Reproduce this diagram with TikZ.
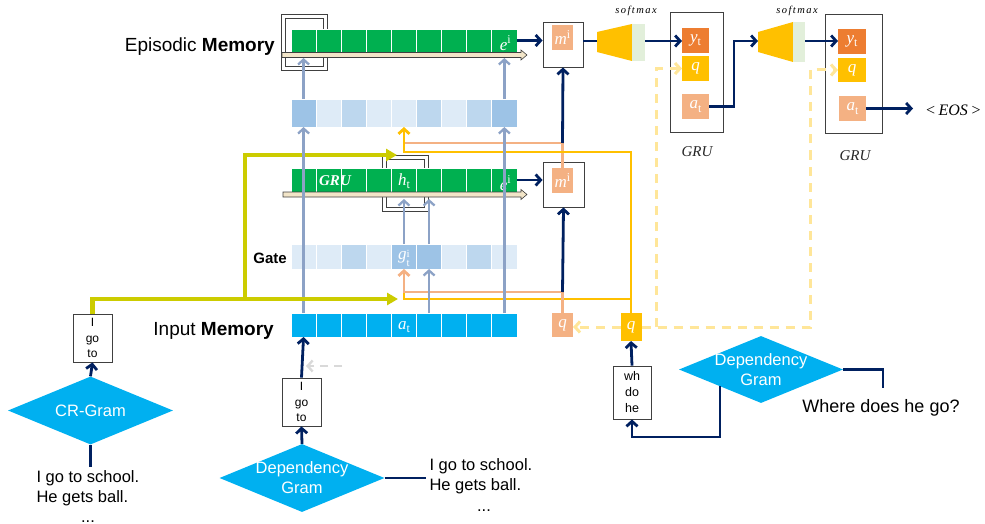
\documentclass[tikz,border=0pt]{standalone}
\usepackage{fontspec}
\setmainfont{Liberation Sans}
\newfontfamily\serifc{Liberation Serif}
\newfontfamily\serifsp[LetterSpace=14]{Liberation Serif}
\usetikzlibrary{arrows.meta,shapes.geometric,calc}
\newcommand\supl[2]{{\serifc\itshape #1}\raisebox{0.40em}{\serifc\fontsize{12}{12}\selectfont #2}}
\newcommand\subl[2]{{\serifc\itshape #1}\raisebox{-0.20em}{\serifc\fontsize{12}{12}\selectfont #2}}
\newcommand\bothl[3]{{\serifc\itshape #1}\raisebox{-0.42em}{\serifc\fontsize{11}{9.5}\selectfont\shortstack[l]{#2\\#3}}}
\definecolor{navyc}{RGB}{0,32,96}
\definecolor{grayb}{RGB}{140,162,198}
\definecolor{ygc}{RGB}{204,204,0}
\definecolor{orangec}{RGB}{255,192,0}
\definecolor{salc}{RGB}{244,177,131}
\definecolor{dorc}{RGB}{237,125,49}
\definecolor{lyel}{RGB}{255,230,153}
\definecolor{cyanc}{RGB}{0,176,240}
\definecolor{greenc}{RGB}{0,176,80}
\definecolor{bA}{RGB}{157,195,230}
\definecolor{bB}{RGB}{189,215,238}
\definecolor{bC}{RGB}{222,235,247}
\definecolor{tanc}{RGB}{242,229,200}
\definecolor{lgreen}{RGB}{226,239,218}
\definecolor{lgray}{RGB}{217,217,217}
\definecolor{boxc}{RGB}{64,64,64}
\begin{document}
\begin{tikzpicture}[x=1pt,y=-1pt,
  cell/.style={draw=white, line width=0.7pt, minimum width=25.1pt, inner sep=0pt, outer sep=0pt},
  nav/.style={draw=navyc, line width=2.8pt},
  navar/.style={nav, -{Straight Barb[length=5pt,width=11pt]}},
  gbar/.style={draw=grayb, line width=2.3pt, -{Straight Barb[length=5pt,width=11pt]}},
  ygl/.style={draw=ygc, line width=4.2pt},
  ygar/.style={ygl, -{Triangle[length=11pt,width=12pt]}},
  orl/.style={draw=orangec, line width=2.8pt},
  sall/.style={draw=salc, line width=2.8pt},
  dyel/.style={draw=lyel, line width=3pt, dash pattern=on 9pt off 7pt},
  lgd/.style={draw=lgray, line width=2.4pt, dash pattern=on 8pt off 6pt, -{Straight Barb[length=5pt,width=11pt]}},
  wlab/.style={text=white, font=\fontsize{17}{19}\selectfont, inner sep=0pt},
  sq/.style={minimum width=21pt, inner sep=0pt, outer sep=0pt, text=white, font=\fontsize{17}{19}\selectfont},
  wbox/.style={draw=boxc, line width=0.9pt, fill=white, align=center, inner sep=0pt, font=\fontsize{12}{15.5}\selectfont},
  diam/.style={diamond, fill=cyanc, inner sep=0pt, minimum width=165pt, minimum height=68pt},
  dtext/.style={text=white, align=center, font=\fontsize{16.5}{20}\selectfont},
  btext/.style={font=\fontsize{16.5}{20}\selectfont, align=left},
  glab/.style={font=\serifc\itshape\fontsize{15}{17}\selectfont, text=black!85},
  smlab/.style={font=\serifsp\itshape\fontsize{10.5}{12}\selectfont}
]
\useasboundingbox (0,0) rectangle (985,524);

% double boxes (behind cells)
\draw[boxc, line width=0.9pt] (281,14) rectangle (327,70);
\draw[boxc, line width=0.9pt] (285,18) rectangle (323,66);
\draw[boxc, line width=0.9pt] (382,155) rectangle (428,211);
\draw[boxc, line width=0.9pt] (386,159) rectangle (424,207);

% rows of cells
\foreach \i in {1,...,9} {
  \node[cell, fill=greenc, minimum height=23pt] (em\i) at ({291+25.1*(\i-0.5)},40.5) {};
  \node[cell, fill=greenc, minimum height=24pt] (gr\i) at ({291+25.1*(\i-0.5)},180) {};
  \node[cell, fill=cyanc, minimum height=24pt] (in\i) at ({291+25.1*(\i-0.5)},325) {};
}
\foreach \c [count=\i] in {bA,bC,bB,bC,bC,bB,bC,bB,bA}
  \node[cell, fill=\c, minimum height=28pt] (att\i) at ({291+25.1*(\i-0.5)},113) {};
\foreach \c [count=\i] in {bC,bC,bB,bC,bA,bA,bC,bB,bC}
  \node[cell, fill=\c, minimum height=25pt] (gt\i) at ({291+25.1*(\i-0.5)},256.5) {};

% cell labels
\node[wlab] (le1) at ($(em9)+(1,3)$) {\supl{e}{i}};
\node[wlab] (le2) at ($(gr9)+(1,3)$) {\supl{e}{i}};
\node[wlab] (lht) at ($(gr5)+(0,1)$) {\subl{h}{t}};
\node[wlab, font=\serifc\bfseries\itshape\fontsize{15}{17}\selectfont] (lgru) at (335,181) {GRU};
\node[wlab] (lgt5) at ($(gt5)+(0,2)$) {\bothl{g}{i}{t}};
\node[wlab] (lat) at ($(in5)+(0,2)$) {\subl{a}{t}};

% tan bars
\filldraw[fill=tanc, draw=boxc, line width=0.6pt] (282,52.5) -- (521,52.5) -- (521,50) -- (527,55) -- (521,60) -- (521,57.5) -- (282,57.5) -- cycle;
\filldraw[fill=tanc, draw=boxc, line width=0.6pt] (283,192) -- (521,192) -- (521,189.5) -- (527,194.5) -- (521,199.5) -- (521,197) -- (283,197) -- cycle;

% row labels
\node[anchor=east, font=\fontsize{19}{22}\selectfont, inner sep=0pt] (lem) at (275,47) {Episodic \textbf{Memory}};
\node[anchor=east, font=\fontsize{19}{22}\selectfont, inner sep=0pt] (lin) at (274,331) {Input \textbf{Memory}};
\node[anchor=east, font=\bfseries\fontsize{15}{18}\selectfont, inner sep=0pt] (lgt) at (287,258) {Gate};

% m boxes and q boxes
\node[draw=boxc, line width=0.9pt, minimum width=40pt, minimum height=45pt, inner sep=0pt] (m1) at (563,44.5) {};
\node[sq, fill=salc, minimum height=25pt] (m1i) at (562.5,37.5) {\supl{m}{i}};
\node[draw=boxc, line width=0.9pt, minimum width=41pt, minimum height=45pt, inner sep=0pt] (m2) at (563.5,184.5) {};
\node[sq, fill=salc, minimum height=25pt] (m2i) at (562.5,180.5) {\supl{m}{i}};
\node[sq, fill=salc, minimum height=24pt] (qs) at (562.5,325) {{\serifc\itshape q}};
\node[sq, fill=orangec, minimum height=28pt] (qo) at (631,327) {{\serifc\itshape q}};

% coordinates
\coordinate (emb) at (282,58);
\coordinate (grb) at (283,199);
\coordinate (jU) at (562.5,143);
\coordinate (jL) at (562.5,292);
\coordinate (oL) at (631,299);
\coordinate (ygL) at (398,299);
\coordinate (ygB) at (245,299);
\coordinate (ygU) at (397,155);
\coordinate (eosE) at (913,108.5);
\coordinate (wy) at (632,437);

% yellow-green
\draw[ygar] (ygB) |- (ygU);

% salmon / orange structure
\draw[sall] (m2i.north) -- (jU) -- (jU -| att5.south);
\draw[orl, -{Straight Barb[length=5pt,width=11pt]}] (qo.north) |- ($(att5.south)+(0,25)$) -- (att5.south);
\draw[navar] (jU) -- (m1.south);
\draw[orl] (oL) -- ($(gt5.south)+(0,30)$) -- ($(gt5.south)+(0,23)$);
\draw[sall, -{Straight Barb[length=5pt,width=11pt]}] (qs.north) |- ($(gt5.south)+(0,23)$) -- (gt5.south);
\draw[navar] (jL) -- (m2.south);

% gray arrows
\draw[gbar] (in1.north) -- (att1.south);
\draw[gbar] (in9.north) -- (att9.south);
\draw[gbar] (att1.north) -- (att1.north |- emb);
\draw[gbar] (att9.north) -- (att9.north |- emb);
\draw[gbar] (in6.north) -- (gt6.south);
\draw[gbar] (gt5.north) -- (gt5.north |- grb);
\draw[gbar] (gt6.north) -- (gt6.north |- grb);

% navy from e to m
\draw[navar] (em9.east) -- (em9.east -| m1.west);
\draw[navar] (gr9.east) -- (gr9.east -| m2.west);

% softmax 1
\coordinate (sm1in) at (597,41);
\coordinate (sm1out) at (645,41);
\fill[orangec] (597,32) -- (632,24) -- (632,61) -- (597,52) -- cycle;
\fill[lgreen] (632,24) rectangle (645,61);
\node[smlab] (smx1) at (636,11) {softmax};
\draw[nav] (m1.east |- sm1in) -- (sm1in);

% GRU box 1
\node[draw=boxc, line width=0.9pt, minimum width=53pt, minimum height=120pt, inner sep=0pt] (g1) at (696.5,72) {};
\node[sq, fill=dorc, minimum width=27pt, minimum height=25pt] (yt1) at (695.5,40.5) {\subl{y}{t}};
\node[sq, fill=orangec, minimum width=27pt, minimum height=25pt] (q1) at (695.5,68.5) {{\serifc\itshape q}};
\node[sq, fill=salc, minimum width=27pt, minimum height=25pt] (at1) at (695.5,106.5) {\subl{a}{t}};
\node[glab] (gl1) at (697,152) {GRU};
\draw[navar] (sm1out) -- (sm1out -| yt1.west);

% softmax 2
\coordinate (sm2in) at (758,41);
\coordinate (sm2out) at (805,41);
\fill[orangec] (758,32) -- (793,22) -- (793,62) -- (758,52) -- cycle;
\fill[lgreen] (793,22) rectangle (805,62);
\node[smlab] (smx2) at (797,11) {softmax};
\draw[navar] (at1.east) -- ++(25,0) |- (sm2in);

% GRU box 2
\node[draw=boxc, line width=0.9pt, minimum width=57pt, minimum height=119pt, inner sep=0pt] (g2) at (853.5,73.5) {};
\node[sq, fill=dorc, minimum width=28pt, minimum height=25pt] (yt2) at (852,41.5) {\subl{y}{t}};
\node[sq, fill=orangec, minimum width=28pt, minimum height=24pt] (q2) at (852,70) {{\serifc\itshape q}};
\node[sq, fill=salc, minimum width=27pt, minimum height=25pt] (at2) at (852.5,108.5) {\subl{a}{t}};
\node[glab] (gl2) at (855,156) {GRU};
\draw[navar] (sm2out) -- (sm2out -| yt2.west);
\node[font=\serifc\itshape\fontsize{16}{18}\selectfont, anchor=west, inner sep=0pt] (eos) at (925,110) {<\,EOS\,>};
\draw[navar] (at2.east) -- (eosE);

% dashed yellow
\coordinate (dR) at (810,327);
\coordinate (dL) at (656,327);
\draw[dyel, -{Straight Barb[length=5pt,width=11pt]}] (qo.west) -- (qo.west -| qs.east);
\draw[dyel, -{Straight Barb[length=5pt,width=11pt]}] (qo.east) -- (dR) |- (q2.west);
\draw[dyel, -{Straight Barb[length=5pt,width=11pt]}] (dL) |- (q1.west);

% bottom middle: dependency
\node[wbox, minimum width=39pt, minimum height=48pt] (dbox) at (301.5,402) {I\\go\\to};
\draw[navar] (dbox.north) -- (in1.south);
\coordinate (lgS) at (342,366);
\coordinate (lgE) at (306,366);
\draw[lgd] (lgS) -- (lgE);
\node[diam] (dg1) at (302,478) {};
\node[dtext] (dg1t) at (dg1) {Dependency\\Gram};
\draw[navar] (dg1.north) -- (dbox.south);
\node[btext, anchor=west] (dtx) at (426,476) {I go to school.\\He gets ball.};
\draw[nav] (dg1.east) -- (dg1.east -| dtx.west);
\node[font=\fontsize{16.5}{20}\selectfont, anchor=base] (ddots) at (484,511) {...};

% bottom left: CR-Gram
\node[wbox, minimum width=39pt, minimum height=48pt] (crbox) at (92.5,338) {I\\go\\to};
\draw[ygar] (crbox.north) |- (ygL);
\node[diam] (cr) at (90.5,410.5) {};
\node[dtext] (crt) at (cr) {CR-Gram};
\draw[navar] (cr.north) -- (crbox.south);
\node[btext, anchor=west] (crtx) at (33,488) {I go to school.\\He gets ball.};
\draw[nav] (cr.south) -- (cr.south |- crtx.north);
\node[font=\fontsize{16.5}{20}\selectfont, anchor=base, inner sep=0pt] (crdots) at (88,522) {...};

% bottom right
\node[wbox, minimum width=38pt, minimum height=53pt, font=\fontsize{12.5}{16}\selectfont] (whbox) at (632,392.5) {wh\\do\\he};
\draw[navar] (whbox.north) -- (qo.south);
\node[diam, minimum width=164pt, minimum height=67pt] (dg2) at (761,369.5) {};
\node[dtext] (dg2t) at (dg2) {Dependency\\Gram};
\coordinate (dg2bl) at ($(dg2.south)!0.5!(dg2.west)$);
\draw[navar] (dg2bl) -- (dg2bl |- wy) -| (whbox.south);
\coordinate (wrc) at (883,388);
\draw[nav] (dg2.east) -| (wrc);
\node[font=\fontsize{18}{21}\selectfont] (wq) at (881,408) {Where does he go?};
\end{tikzpicture}
\end{document}
